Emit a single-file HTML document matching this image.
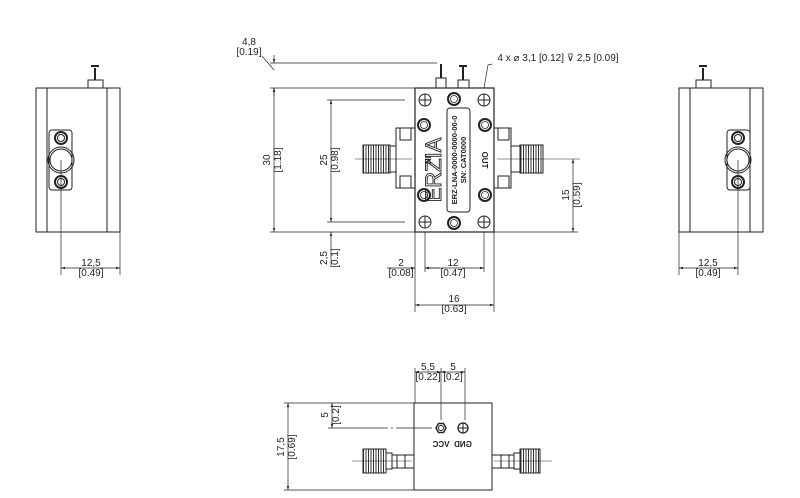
<!DOCTYPE html>
<html><head><meta charset="utf-8"><style>
html,body{margin:0;padding:0;background:#fff;}
svg{display:block;font-family:"Liberation Sans",sans-serif;}
</style></head><body>
<svg width="800" height="498" viewBox="0 0 800 498" xmlns="http://www.w3.org/2000/svg">
<defs>
<marker id="a" viewBox="0 0 10 10" refX="10" refY="5" markerWidth="6" markerHeight="6" orient="auto-start-reverse"><path d="M0,2 L10,5 L0,8 z" fill="#222"/></marker>
<pattern id="th" width="2.5" height="4" patternUnits="userSpaceOnUse"><rect width="2.5" height="4" fill="#fff"/><line x1="1" y1="0" x2="1" y2="4" stroke="#333" stroke-width="1"/></pattern>
</defs>
<g fill="none" stroke="#222" stroke-width="1">
<!-- LEFT VIEW -->
<rect x="36" y="88" width="84" height="144"/>
<line x1="47" y1="88" x2="47" y2="232"/><line x1="107" y1="88" x2="107" y2="232"/>
<rect x="88" y="80" width="15" height="8"/><line x1="95" y1="68" x2="95" y2="80" stroke-width="2"/><line x1="91" y1="66" x2="99" y2="66" stroke-width="2"/>
<rect x="49" y="130" width="23" height="60" rx="3"/>
<circle cx="61" cy="138" r="6" stroke-width="2"/><circle cx="61" cy="138" r="3.5"/>
<circle cx="61" cy="182" r="6" stroke-width="2"/><circle cx="61" cy="182" r="3.5"/>
<circle cx="61" cy="160" r="13"/><circle cx="61" cy="160" r="11"/>
<line x1="61" y1="160" x2="61" y2="275" stroke-width="0.7"/>
<line x1="120" y1="232" x2="120" y2="275" stroke-width="0.7"/>
<line x1="61" y1="268" x2="120" y2="268" stroke-width="0.7" marker-start="url(#a)" marker-end="url(#a)"/>
<!-- RIGHT VIEW -->
<rect x="679" y="88" width="84" height="144"/>
<line x1="690" y1="88" x2="690" y2="232"/><line x1="750" y1="88" x2="750" y2="232"/>
<rect x="696" y="80" width="15" height="8"/><line x1="703" y1="68" x2="703" y2="80" stroke-width="2"/><line x1="699" y1="66" x2="707" y2="66" stroke-width="2"/>
<rect x="727" y="130" width="23" height="60" rx="3"/>
<circle cx="738" cy="138" r="6" stroke-width="2"/><circle cx="738" cy="138" r="3.5"/>
<circle cx="738" cy="182" r="6" stroke-width="2"/><circle cx="738" cy="182" r="3.5"/>
<circle cx="738" cy="160" r="13"/><circle cx="738" cy="160" r="11"/>
<line x1="738" y1="160" x2="738" y2="275" stroke-width="0.7"/>
<line x1="679" y1="232" x2="679" y2="275" stroke-width="0.7"/>
<line x1="679" y1="268" x2="738" y2="268" stroke-width="0.7" marker-start="url(#a)" marker-end="url(#a)"/>
<!-- MAIN VIEW -->
<rect x="415" y="88" width="79" height="144" stroke-width="1.2"/>
<rect x="436" y="78" width="10" height="10"/><line x1="441" y1="64" x2="441" y2="78" stroke-width="2"/>
<rect x="458" y="80" width="11" height="8"/><line x1="463" y1="67" x2="463" y2="80" stroke-width="2"/><line x1="459" y1="66" x2="467" y2="66" stroke-width="2"/>
<g>
<circle cx="425" cy="100" r="6"/><line x1="419" y1="100" x2="431" y2="100"/><line x1="425" y1="94" x2="425" y2="106"/>
<circle cx="484" cy="100" r="6"/><line x1="478" y1="100" x2="490" y2="100"/><line x1="484" y1="94" x2="484" y2="106"/>
<circle cx="425" cy="222" r="6"/><line x1="419" y1="222" x2="431" y2="222"/><line x1="425" y1="216" x2="425" y2="228"/>
<circle cx="484" cy="222" r="6"/><line x1="478" y1="222" x2="490" y2="222"/><line x1="484" y1="216" x2="484" y2="228"/>
</g>
<g stroke-width="2">
<circle cx="424" cy="125" r="6"/><circle cx="485" cy="125" r="6"/><circle cx="424" cy="195" r="6"/><circle cx="485" cy="195" r="6"/><circle cx="454" cy="99" r="6"/><circle cx="454" cy="223" r="6"/>
</g>
<g stroke-width="0.8"><circle cx="424" cy="125" r="3.5"/><circle cx="485" cy="125" r="3.5"/><circle cx="424" cy="195" r="3.5"/><circle cx="485" cy="195" r="3.5"/><circle cx="454" cy="99" r="3.5"/><circle cx="454" cy="223" r="3.5"/></g>
<rect x="447" y="108" width="23" height="104" rx="3"/>
<!-- left SMA -->
<rect x="396" y="128" width="19" height="60"/><rect x="400" y="128" width="11" height="12"/><rect x="400" y="176" width="11" height="12"/>
<rect x="390" y="146" width="6" height="26"/>
<rect x="363" y="145" width="27" height="28" fill="url(#th)"/>
<!-- right SMA -->
<rect x="494" y="128" width="17" height="60"/><rect x="498" y="128" width="11" height="12"/><rect x="498" y="176" width="11" height="12"/>
<rect x="511" y="146" width="9" height="26"/>
<rect x="520" y="145" width="23" height="28" fill="url(#th)"/>
<line x1="355" y1="159" x2="412" y2="159" stroke-width="0.6"/><line x1="497" y1="159" x2="580" y2="159" stroke-width="0.6"/>
<!-- dims main -->
<g stroke-width="0.7">
<line x1="270" y1="63" x2="437" y2="63"/><line x1="270" y1="88" x2="415" y2="88"/><line x1="270" y1="232" x2="415" y2="232"/>
<line x1="274" y1="88" x2="274" y2="232" marker-start="url(#a)" marker-end="url(#a)"/>
<line x1="274" y1="55" x2="274" y2="63" marker-end="url(#a)"/><line x1="274" y1="96" x2="274" y2="88" marker-end="url(#a)"/>
<line x1="262" y1="56" x2="274" y2="70"/>
<line x1="327" y1="100" x2="405" y2="100"/><line x1="327" y1="222" x2="405" y2="222"/>
<line x1="331" y1="100" x2="331" y2="222" marker-start="url(#a)" marker-end="url(#a)"/>
<line x1="331" y1="245" x2="331" y2="232" marker-end="url(#a)"/><line x1="331" y1="265" x2="331" y2="245"/>
<line x1="494" y1="232" x2="578" y2="232"/>
<line x1="573" y1="159" x2="573" y2="232" marker-start="url(#a)" marker-end="url(#a)"/>
<line x1="415" y1="232" x2="415" y2="312"/><line x1="494" y1="232" x2="494" y2="312"/>
<line x1="425" y1="232" x2="425" y2="272"/><line x1="484" y1="232" x2="484" y2="272"/>
<line x1="387" y1="268" x2="415" y2="268" marker-end="url(#a)"/><line x1="440" y1="268" x2="425" y2="268" marker-end="url(#a)"/>
<line x1="425" y1="268" x2="484" y2="268" marker-start="url(#a)" marker-end="url(#a)"/>
<line x1="415" y1="305" x2="494" y2="305" marker-start="url(#a)" marker-end="url(#a)"/>
<polyline points="484,88 488,65 492,64"/>
</g>
<!-- BOTTOM VIEW -->
<rect x="414" y="403" width="78" height="87"/>
<polygon points="436,428 438.5,423.5 443.5,423.5 446,428 443.5,432.5 438.5,432.5" stroke-width="1.5"/><circle cx="441" cy="428" r="2.5"/>
<circle cx="463" cy="428" r="5" stroke-width="1.3"/><line x1="458" y1="428" x2="468" y2="428"/><line x1="463" y1="423" x2="463" y2="433"/>
<rect x="363" y="449" width="23" height="24" fill="url(#th)"/><rect x="386" y="453" width="6" height="16"/><rect x="392" y="455" width="22" height="13"/><rect x="397" y="455" width="8" height="13"/>
<rect x="520" y="449" width="20" height="24" fill="url(#th)"/><rect x="514" y="453" width="6" height="16"/><rect x="492" y="455" width="22" height="13"/><rect x="501" y="455" width="8" height="13"/>
<line x1="352" y1="461" x2="412" y2="461" stroke-width="0.6"/><line x1="494" y1="461" x2="552" y2="461" stroke-width="0.6"/>
<g stroke-width="0.7">
<line x1="284" y1="403" x2="414" y2="403"/><line x1="284" y1="490" x2="414" y2="490"/>
<line x1="288" y1="403" x2="288" y2="490" marker-start="url(#a)" marker-end="url(#a)"/>
<line x1="328" y1="428" x2="432" y2="428" stroke-dasharray="60 3 2 3"/>
<line x1="332" y1="403" x2="332" y2="428" marker-start="url(#a)" marker-end="url(#a)"/>
<line x1="415" y1="368" x2="415" y2="403"/><line x1="441" y1="368" x2="441" y2="420"/><line x1="465" y1="368" x2="465" y2="420"/>
<line x1="415" y1="372" x2="441" y2="372" marker-start="url(#a)" marker-end="url(#a)"/>
<line x1="441" y1="372" x2="465" y2="372" marker-start="url(#a)" marker-end="url(#a)"/>
</g>
</g>
<g fill="#222" font-size="10" text-anchor="middle">
<text x="91" y="266">12,5</text><text x="91" y="276">[0.49]</text>
<text x="708" y="266">12,5</text><text x="708" y="276">[0.49]</text>
<text x="249" y="45">4,8</text><text x="249" y="55">[0.19]</text>
<text x="558" y="61">4 x ⌀ 3,1 [0.12] ⊽ 2,5 [0.09]</text>
<text x="401" y="266">2</text><text x="401" y="276">[0.08]</text>
<text x="453" y="266">12</text><text x="453" y="276">[0.47]</text>
<text x="454" y="302">16</text><text x="454" y="312">[0.63]</text>
<text transform="translate(270,160) rotate(-90)">30</text><text transform="translate(281,160) rotate(-90)">[1.18]</text>
<text transform="translate(327,160) rotate(-90)">25</text><text transform="translate(338,160) rotate(-90)">[0.98]</text>
<text transform="translate(327,258) rotate(-90)">2,5</text><text transform="translate(338,258) rotate(-90)">[0.1]</text>
<text transform="translate(569,195) rotate(-90)">15</text><text transform="translate(580,195) rotate(-90)">[0.59]</text>
<text transform="translate(284,447) rotate(-90)">17,5</text><text transform="translate(295,447) rotate(-90)">[0.69]</text>
<text transform="translate(328,415) rotate(-90)">5</text><text transform="translate(339,415) rotate(-90)">[0.2]</text>
<text x="428" y="370">5,5</text><text x="428" y="380">[0.22]</text>
<text x="453" y="370">5</text><text x="453" y="380">[0.2]</text>
<g font-size="8" font-weight="bold">
<text transform="translate(425,160) rotate(90)">IN</text>
<text transform="translate(482,160) rotate(90)">OUT</text>
<text transform="translate(457,160) rotate(-90)" font-size="7.5">ERZ-LNA-0000-0000-00-0</text>
<text transform="translate(466,160) rotate(-90)" font-size="7.5">SN: CAT0000</text>
<text transform="translate(441,447) scale(-1,1)" font-size="8">VCC</text>
<text transform="translate(463,447) scale(-1,1)" font-size="8">GND</text>
</g>
<text transform="translate(441,170) rotate(-90)" font-size="22" fill="none" stroke="#222" stroke-width="0.9">ERZIA</text>
</g>
</svg>
</body></html>
